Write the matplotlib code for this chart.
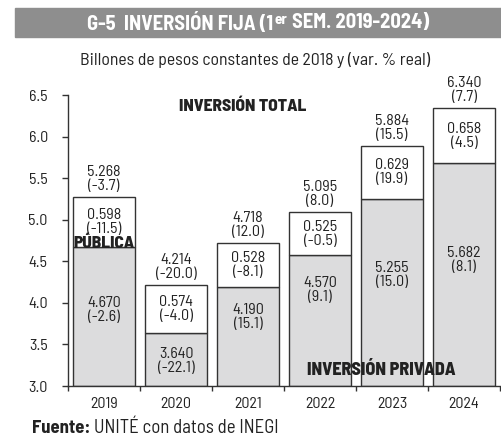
import matplotlib.pyplot as plt
from matplotlib.patches import Rectangle

years = ['2019', '2020', '2021', '2022', '2023', '2024']
privada = [4.670, 3.640, 4.190, 4.570, 5.255, 5.682]
privada_var = [-2.6, -22.1, 15.1, 9.1, 15.0, 8.1]
publica = [0.598, 0.574, 0.528, 0.525, 0.629, 0.658]
publica_var = [-11.5, -4.0, -8.1, -0.5, 19.9, 4.5]
total = [5.268, 4.214, 4.718, 5.095, 5.884, 6.340]
total_var = [-3.7, -20.0, 12.0, 8.0, 15.5, 7.7]

# posicion vertical de las etiquetas de privada (layout)
priv_label_y = [3.92, 3.30, 3.83, 4.15, 4.33, 4.51]

plt.rcParams['font.family'] = ['Barlow Semi Condensed', 'DejaVu Sans']
txt = '#222222'
fs = 11.5

fig = plt.figure(figsize=(5.01, 4.36), dpi=100)
ax = fig.add_axes([68 / 501, 1 - 386 / 436, 432 / 501, 291 / 436])

base = 3.0
x = range(len(years))
ax.bar(x, [p - base for p in privada], bottom=base, width=0.86,
       color='#dcdcdd', edgecolor='#333333', lw=1.0, zorder=2)
ax.bar(x, publica, bottom=privada, width=0.86,
       color='white', edgecolor='#333333', lw=1.0, zorder=2)


def fmt(v):
    return f'({v:.1f})'


for i in x:
    ax.text(i, priv_label_y[i], f'{privada[i]:.3f}\n{fmt(privada_var[i])}',
            ha='center', va='center', fontsize=fs, color=txt, linespacing=1.0, zorder=3)
    ax.text(i, privada[i] + publica[i] / 2, f'{publica[i]:.3f}\n{fmt(publica_var[i])}',
            ha='center', va='center', fontsize=fs, color=txt, linespacing=1.0, zorder=3)
    ax.annotate(f'{total[i]:.3f}\n{fmt(total_var[i])}', xy=(i, total[i]),
                xytext=(0, 3), textcoords='offset points', ha='center', va='bottom',
                fontsize=fs, color=txt, linespacing=1.0, annotation_clip=False)

ax.text(1.93, 6.36, 'INVERSIÓN TOTAL', ha='center', va='center',
        fontsize=12.5, fontweight=800, color=txt)
ax.text(0, privada[0] + 0.05, 'PÚBLICA', ha='center', va='center',
        fontsize=12.5, fontweight=800, color=txt, zorder=4)
ax.text(3.85, 3.2, 'INVERSIÓN PRIVADA', ha='center', va='center',
        fontsize=13, fontweight=800, color=txt, zorder=4)

ax.set_xlim(-0.5, 5.5)
ax.set_ylim(3.0, 6.5)
ax.set_yticks([3.0, 3.5, 4.0, 4.5, 5.0, 5.5, 6.0, 6.5])
ax.set_yticklabels([f'{v:.1f}' for v in ax.get_yticks()])
ax.set_xticks(list(x))
ax.set_xticklabels(years)
ax.set_xticks([i - 0.5 for i in range(len(years) + 1)], minor=True)
ax.tick_params(axis='x', which='major', length=0, pad=8, labelsize=fs, labelcolor=txt)
ax.tick_params(axis='x', which='minor', length=3.5, width=1, color='#333333')
ax.tick_params(axis='y', length=4.5, width=1, color='#333333', pad=10,
               labelsize=fs, labelcolor=txt)
for s in ['top', 'right']:
    ax.spines[s].set_visible(False)
for s in ['left', 'bottom']:
    ax.spines[s].set_color('#333333')
    ax.spines[s].set_linewidth(1)

# banner del titulo
fig.patches.append(Rectangle((15 / 501, 1 - 37 / 436), 486 / 501, 29 / 436,
                             transform=fig.transFigure, color='#8e8e8e', zorder=0))
ty = 1 - 23 / 436
t1 = fig.text(87 / 501, ty, 'G-5  INVERSIÓN FIJA (1', ha='left', va='center',
              fontsize=14.8, fontweight='bold', color='white')
fig.canvas.draw()
r = fig.canvas.get_renderer()
bb = t1.get_window_extent(r)
t2 = fig.text((bb.x1 + 1) / 501, (bb.y1 - 1) / 436, 'er', ha='left', va='top',
              fontsize=11, fontweight='bold', color='white')
bb2 = t2.get_window_extent(r)
fig.text((bb2.x1 + 1) / 501, ty, ' SEM. 2019-2024)', ha='left', va='center',
         fontsize=14.8, fontweight='bold', color='white')

fig.text(255 / 501, 1 - 60 / 436, 'Billones de pesos constantes de 2018 y (var. % real)',
         ha='center', va='center', fontsize=12.8, color=txt)

f1 = fig.text(32 / 501, 3 / 436, 'Fuente:', ha='left', va='baseline',
              fontsize=13.5, fontweight='bold', color=txt)
bbf = f1.get_window_extent(r)
fig.text((bbf.x1 + 4) / 501, 3 / 436, 'UNITÉ con datos de INEGI', ha='left', va='baseline',
         fontsize=13.5, color=txt)

fig.savefig('out.png', dpi=100)
